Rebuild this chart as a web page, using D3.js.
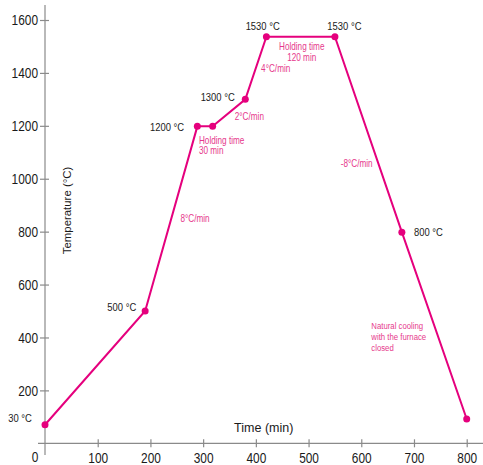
<!DOCTYPE html>
<html>
<head>
<meta charset="utf-8">
<script src="https://cdn.jsdelivr.net/npm/d3@7"></script>
<style>
    body { margin: 0; background: #fff; }
    svg text { font-family: "Liberation Sans", Arial, sans-serif; }
</style>
</head>
<body>
<div id="chart"></div>
<script>
// heating schedule
var times = [0, 190, 289, 318, 380, 420, 550, 677, 800];
var temps = [70, 500, 1198, 1198, 1300, 1537, 1537, 798, 92];

var xTicks = [100, 200, 300, 400, 500, 600, 700, 800];
var yTicks = [200, 400, 600, 800, 1000, 1200, 1400, 1600];

// black temperature labels: text, time, temp, anchor
var pointLabels = [
    ["30 °C", -25, 94, "end"],
    ["500 °C", 173, 514, "end"],
    ["1200 °C", 264, 1195, "end"],
    ["1300 °C", 360, 1308, "end"],
    ["1530 °C", 413, 1577, "middle"],
    ["1530 °C", 568, 1577, "middle"],
    ["800 °C", 700, 797, "start"]
];

// pink notes: lines, time, temp, anchor
var notes = [
    [["Holding time", "120 min"], 487, 1499, "middle"],
    [["4°C/min"], 410, 1415, "start"],
    [["2°C/min"], 360, 1237, "start"],
    [["Holding time", "30 min"], 292, 1146, "start"],
    [["8°C/min"], 257, 850, "start"],
    [["-8°C/min"], 561, 1058, "start"],
    [["Natural cooling", "with the furnace", "closed"], 619, 445, "start"]
];

var width = 483, height = 465;
var lineColour = "#e5007d";
var noteColour = "#e6398c";
var squeeze = 0.82;   // no condensed face installed, so squash the text

var svg = d3.select("#chart")
    .append("svg")
    .attr("width", width)
    .attr("height", height);

var x = d3.scaleLinear().domain([0, 800]).range([45, 466.7]);
var y = d3.scaleLinear().domain([0, 1600]).range([443.3, 20]);

// narrow text block at px,py
function narrowText(lines, px, py, anchor, size, step, colour) {
    var t = svg.append("text")
        .attr("transform", "translate(" + px + "," + py + ") scale(" + squeeze + ",1)")
        .attr("text-anchor", anchor)
        .attr("font-size", size + "px")
        .attr("fill", colour);
    lines.forEach(function (s, i) {
        t.append("tspan")
            .attr("x", 0)
            .attr("y", i * step)
            .attr("dy", "0.35em")
            .text(s);
    });
    return t;
}

// x axis
var xAxis = svg.append("g")
    .attr("transform", "translate(0," + y(0) + ")")
    .call(d3.axisBottom(x).tickValues(xTicks).tickSize(4).tickPadding(5));
xAxis.select(".domain").remove();
xAxis.selectAll(".tick line").attr("y1", -4).attr("stroke", "#8a8a8a").attr("stroke-width", 1.2);
xAxis.selectAll(".tick text")
    .attr("font-size", "14.5px")
    .attr("fill", "#1a1a1a")
    .style("font-family", "'Liberation Sans', sans-serif")
    .attr("transform", "scale(" + squeeze + ",1)");
xAxis.append("line")
    .attr("x1", 38).attr("x2", width)
    .attr("stroke", "#8a8a8a").attr("stroke-width", 1.2);

// y axis
var yAxis = svg.append("g")
    .attr("transform", "translate(" + x(0) + ",0)")
    .call(d3.axisLeft(y).tickValues(yTicks).tickFormat(d3.format("d")).tickSize(5).tickPadding(0));
yAxis.select(".domain").remove();
yAxis.selectAll(".tick line").attr("x2", 4).attr("x1", -5).attr("stroke", "#8a8a8a").attr("stroke-width", 1.2);
yAxis.selectAll(".tick text")
    .attr("font-size", "14.5px")
    .attr("fill", "#1a1a1a")
    .style("font-family", "'Liberation Sans', sans-serif")
    .attr("x", -7 / squeeze)
    .attr("transform", "scale(" + squeeze + ",1)");
yAxis.append("line")
    .attr("y1", 5).attr("y2", 455)
    .attr("stroke", "#8a8a8a").attr("stroke-width", 1.2);

// shared origin label
narrowText(["0"], x(0) - 10, y(0) + 14, "middle", 14.5, 0, "#1a1a1a");

// axis titles
svg.append("text")
    .attr("x", x(415))
    .attr("y", y(60))
    .attr("dy", "0.35em")
    .attr("text-anchor", "middle")
    .attr("font-size", "12.5px")
    .attr("fill", "#1a1a1a")
    .text("Time (min)");

svg.append("text")
    .attr("transform", "translate(67," + y(880) + ") rotate(-90)")
    .attr("dy", "0.35em")
    .attr("text-anchor", "middle")
    .attr("font-size", "11.4px")
    .attr("fill", "#1a1a1a")
    .text("Temperature (°C)");

// the curve
var pts = times.map(function (t, i) { return [t, temps[i]]; });
var line = d3.line()
    .x(function (d) { return x(d[0]); })
    .y(function (d) { return y(d[1]); });

svg.append("path")
    .datum(pts)
    .attr("d", line)
    .attr("fill", "none")
    .attr("stroke", lineColour)
    .attr("stroke-width", 2);

svg.selectAll("circle.pt")
    .data(pts)
    .enter()
    .append("circle")
    .attr("class", "pt")
    .attr("cx", function (d) { return x(d[0]); })
    .attr("cy", function (d) { return y(d[1]); })
    .attr("r", 3.5)
    .attr("fill", lineColour);

// temperature labels
pointLabels.forEach(function (d) {
    narrowText([d[0]], x(d[1]), y(d[2]), d[3], 11.5, 0, "#1a1a1a");
});

// pink notes
notes.forEach(function (n) {
    var big = n[0].length > 2;
    narrowText(n[0], x(n[1]), y(n[2]), n[3], big ? 9.5 : 10, big ? 11 : 10.6, noteColour);
});
</script>
</body>
</html>
